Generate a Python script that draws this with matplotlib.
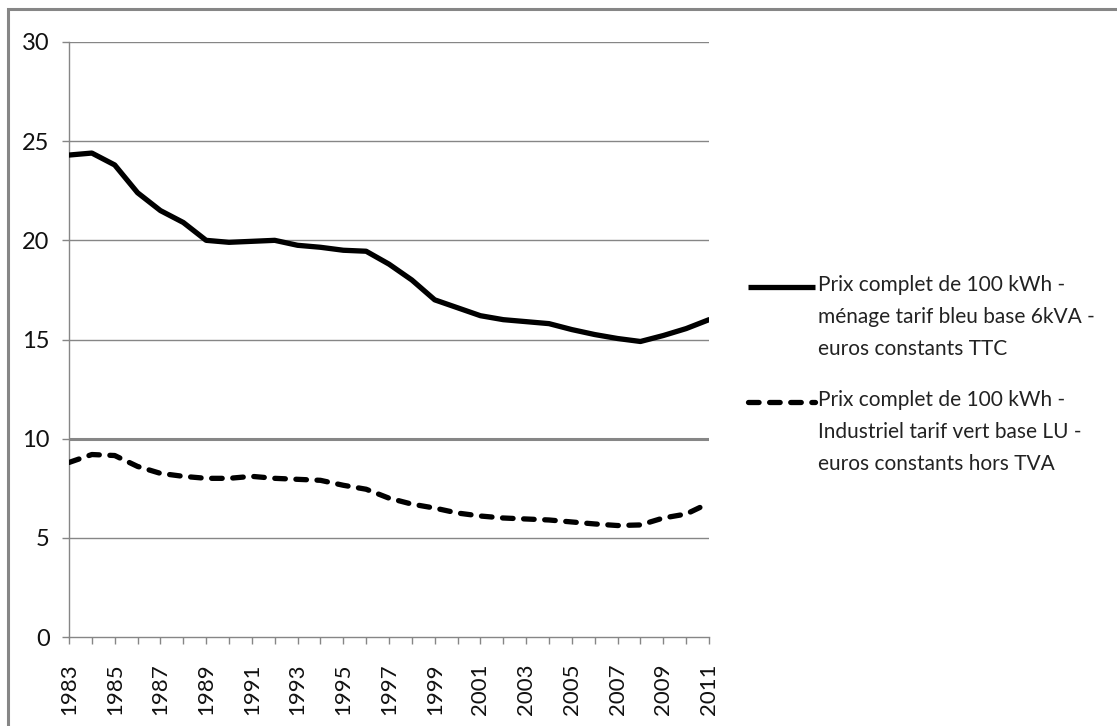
import matplotlib
matplotlib.use("Agg")
import matplotlib.pyplot as plt
from matplotlib.patches import Rectangle
from matplotlib.lines import Line2D

years = list(range(1983, 2012))
menage_ttc = [24.3, 24.4, 23.8, 22.4, 21.5, 20.9, 20.0, 19.9, 19.95, 20.0,
              19.75, 19.65, 19.5, 19.45, 18.8, 18.0, 17.0, 16.6, 16.2, 16.0,
              15.9, 15.8, 15.5, 15.25, 15.05, 14.9, 15.2, 15.55, 16.0]
industriel_ht = [8.8, 9.2, 9.15, 8.6, 8.25, 8.1, 8.0, 8.0, 8.1, 8.0,
                 7.95, 7.9, 7.65, 7.45, 7.0, 6.7, 6.5, 6.25, 6.1, 6.0,
                 5.95, 5.9, 5.8, 5.7, 5.62, 5.65, 6.0, 6.2, 6.75]
label_menage = "Prix complet de 100 kWh -\nménage tarif bleu base 6kVA -\neuros constants TTC"
label_industriel = "Prix complet de 100 kWh -\nIndustriel tarif vert base LU -\neuros constants hors TVA"
y_ticks = [0, 5, 10, 15, 20, 25, 30]

GRID = "#868686"
W, H = 1117, 726
plt.rcParams["font.family"] = ["Lato", "DejaVu Sans"]

fig = plt.figure(figsize=(W / 100, H / 100), dpi=100)
fig.patch.set_facecolor("white")

# chart frame (top and left edges visible)
fig.patches.append(Rectangle((8 / W, -0.1), 1.2, 1 - 9 / H + 0.1,
                             transform=fig.transFigure, fill=False,
                             edgecolor=GRID, linewidth=2.2))

ax = fig.add_axes([69 / W, 89 / H, 640 / W, 595 / H])
ax.set_xlim(years[0], years[-1])
ax.set_ylim(0, 30)

for y in y_ticks[1:]:
    ax.axhline(y, color=GRID, linewidth=2.2 if y == 10 else 1.0, zorder=1)

LW = 3.8
DASH = (0, (2.0, 2.0))
ax.plot(years, menage_ttc, color="black", linewidth=LW,
        solid_joinstyle="round", solid_capstyle="round", zorder=3)
ax.plot(years, industriel_ht, color="black", linewidth=LW,
        linestyle=DASH, dash_capstyle="round", zorder=3)

for side in ("top", "right"):
    ax.spines[side].set_visible(False)
for side in ("left", "bottom"):
    ax.spines[side].set_color(GRID)
    ax.spines[side].set_linewidth(1.0)

ax.set_yticks(y_ticks)
ax.set_yticklabels([str(v) for v in y_ticks])
ax.set_xticks(years)
ax.set_xticklabels([str(y) if (y - years[0]) % 2 == 0 else "" for y in years],
                   rotation=90)
ax.tick_params(axis="y", length=5, width=1.0, color=GRID, pad=9,
               labelsize=17, labelcolor="#111111")
ax.tick_params(axis="x", length=5, width=1.0, color=GRID, pad=14,
               labelsize=16, labelcolor="#111111")

# legend: handle beside the first line of each three-line label
entries = [("-", label_menage, 287), ("--", label_industriel, 402)]
for style, text, ypix in entries:
    yf = 1 - ypix / H
    ls = "-" if style == "-" else DASH
    fig.add_artist(Line2D([748 / W, 815 / W], [yf, yf], transform=fig.transFigure,
                          color="black", linewidth=LW, linestyle=ls,
                          solid_capstyle="butt", dash_capstyle="round"))
    fig.text(818 / W, 1 - (ypix - 12) / H, text, fontsize=15, color="#222222",
             ha="left", va="top", linespacing=1.75,
             transform=fig.transFigure)

fig.savefig("out.png", dpi=100, facecolor="white")
